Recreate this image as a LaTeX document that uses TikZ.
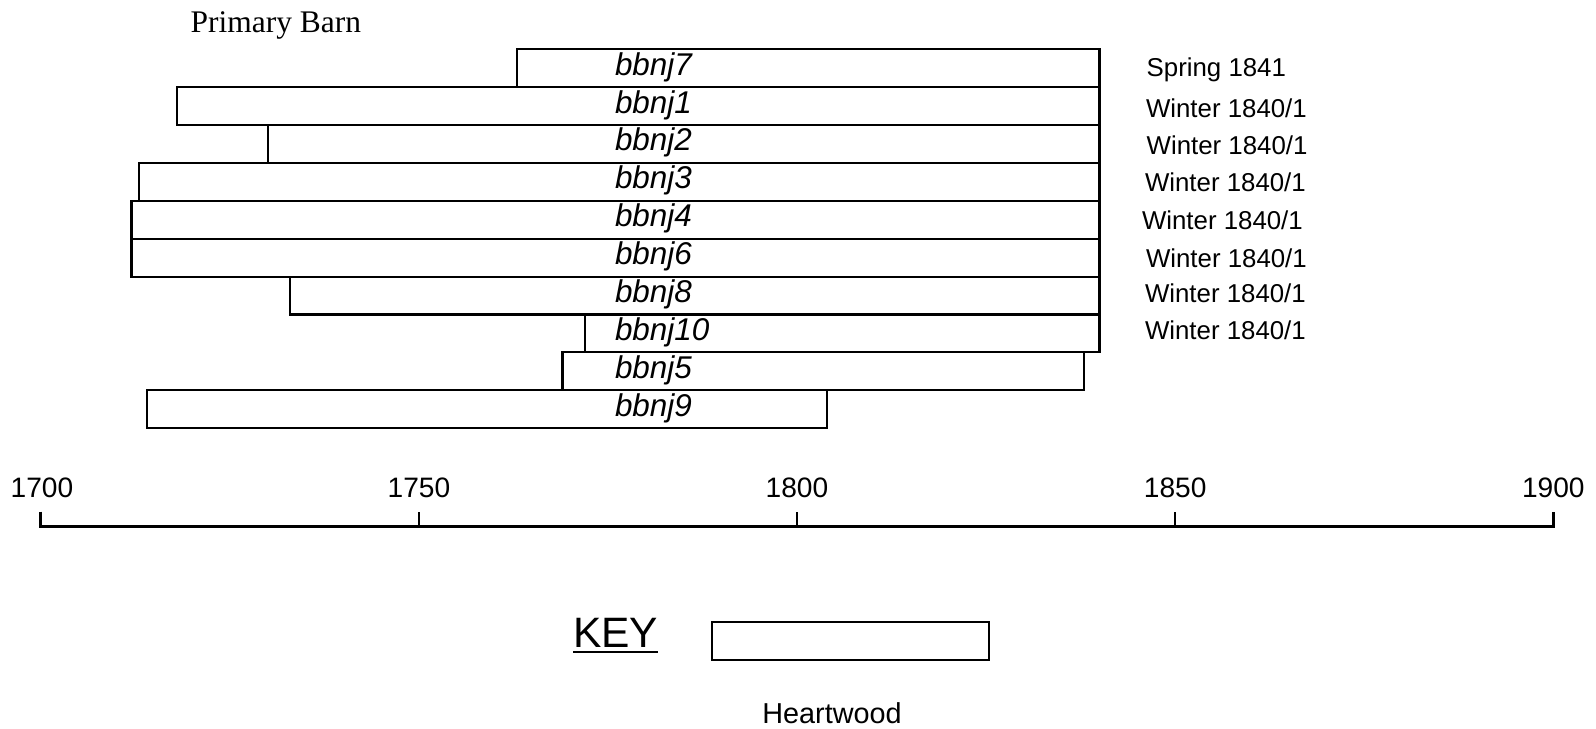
\documentclass[tikz,border=0pt]{standalone}
\usepackage{fontspec}
\setmainfont{Liberation Sans}
\newfontfamily\barnserif{Liberation Serif}
\begin{document}
\begin{tikzpicture}[
        x=0.02cm, y=-0.02cm,
        bar/.style={draw, line width=1.2pt},
        axisline/.style={line width=1.5pt, line join=miter},
        every node/.style={inner sep=0pt, outer sep=0pt},
        sample/.style={anchor=west, font=\fontsize{17.9}{20}\selectfont\itshape},
        felling/.style={anchor=base west, font=\fontsize{14.7}{17}\selectfont},
        yearlabel/.style={anchor=base, font=\fontsize{16}{18}\selectfont}
    ]
        \useasboundingbox (0,0) rectangle (1596,729);

        % Tiêu đề
        \node[anchor=base west, font=\barnserif\fontsize{17.9}{20}\selectfont] (title) at (190.7,32.5) {Primary Barn};

        % Vẽ các thanh
        \draw[bar] (517.2,49) rectangle (1099.5,86.9);
        \draw[bar] (176.8,86.9) rectangle (1099.5,124.9);
        \draw[bar] (267.6,124.9) rectangle (1099.5,162.8);
        \draw[bar] (139,162.8) rectangle (1099.5,200.7);
        \draw[bar] (131.5,200.7) rectangle (1099.5,238.7);
        \draw[bar] (131.5,238.7) rectangle (1099.5,276.6);
        \draw[bar] (290.3,276.6) rectangle (1099.5,314.5);
        \draw[bar] (585.2,314.5) rectangle (1099.5,352.4);
        \draw[bar] (562.5,352.4) rectangle (1084.4,390.4);
        \draw[bar] (146.6,390.4) rectangle (827.3,428.3);

        % Tên mẫu
        \node[sample] (s7) at (615,67) {bbnj7};
        \node[sample] (s1) at (615,104.9) {bbnj1};
        \node[sample] (s2) at (615,142.8) {bbnj2};
        \node[sample] (s3) at (615,180.7) {bbnj3};
        \node[sample] (s4) at (615,218.7) {bbnj4};
        \node[sample] (s6) at (615,256.6) {bbnj6};
        \node[sample] (s8) at (615,294.5) {bbnj8};
        \node[sample] (s10) at (615,332.5) {bbnj10};
        \node[sample] (s5) at (615,370.4) {bbnj5};
        \node[sample] (s9) at (615,408.3) {bbnj9};

        % Niên đại đốn cây
        \node[felling] (f7) at (1146.7,76.7) {Spring 1841};
        \node[felling] (f1) at (1146,117.3) {Winter 1840/1};
        \node[felling] (f2) at (1146.7,155) {Winter 1840/1};
        \node[felling] (f3) at (1145,191.7) {Winter 1840/1};
        \node[felling] (f4) at (1142,229.3) {Winter 1840/1};
        \node[felling] (f6) at (1146,267.3) {Winter 1840/1};
        \node[felling] (f8) at (1145,302.7) {Winter 1840/1};
        \node[felling] (f10) at (1145,340) {Winter 1840/1};

        % Trục thời gian
        \coordinate (a0) at (40.7,526.7);
        \coordinate (a1) at (418.9,526.7);
        \coordinate (a2) at (797,526.7);
        \coordinate (a3) at (1175.2,526.7);
        \coordinate (a4) at (1553.3,526.7);
        \draw[axisline] ([yshift=15*0.02cm]a0) -- (a0) -- (a4) -- ([yshift=15*0.02cm]a4);
        \draw[line width=1.3pt] (a1) -- ++(0,-15);
        \draw[line width=1.3pt] (a2) -- ++(0,-15);
        \draw[line width=1.3pt] (a3) -- ++(0,-15);
        \node[yearlabel] (y0) at (42,497.7) {1700};
        \node[yearlabel] (y1) at (418.9,497.7) {1750};
        \node[yearlabel] (y2) at (797,497.7) {1800};
        \node[yearlabel] (y3) at (1175.2,497.7) {1850};
        \node[yearlabel] (y4) at (1553.3,497.7) {1900};

        % Chú giải
        \node[anchor=base west, font=\fontsize{24.2}{26}\selectfont] (key) at (573,647) {KEY};
        \draw[line width=1pt] ([yshift=-2.7pt]key.base west) -- ([yshift=-2.7pt]key.base east);
        \draw[bar] (711.7,621.7) rectangle (989,660);
        \node[anchor=base, font=\fontsize{16.4}{19}\selectfont] (hw) at (832,723.3) {Heartwood};
\end{tikzpicture}
\end{document}
